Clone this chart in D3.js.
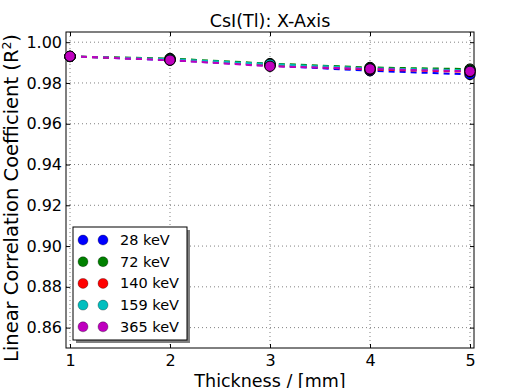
<!DOCTYPE html>
<html><head><meta charset="utf-8">
<script src="https://cdn.jsdelivr.net/npm/d3@7"></script>
<style>body{margin:0;background:#fff;}svg{display:block;font-family:"DejaVu Sans",sans-serif;}</style>
</head><body>
<script>
const thickness = [1, 2, 3, 4, 5];
const seriesNames = ["28 keV", "72 keV", "140 keV", "159 keV", "365 keV"];
const seriesColors = ["#0000ff", "#008000", "#ff0000", "#00bfbf", "#bf00bf"];
const r2_28 = [0.9930, 0.9912, 0.9885, 0.9860, 0.9842];
const r2_72 = [0.9930, 0.9920, 0.9895, 0.9876, 0.9868];
const r2_140 = [0.9930, 0.9915, 0.9888, 0.9866, 0.9855];
const r2_159 = [0.9930, 0.9917, 0.9892, 0.9872, 0.9862];
const r2_365 = [0.9931, 0.9912, 0.9882, 0.9869, 0.9857];
const seriesValues = [r2_28, r2_72, r2_140, r2_159, r2_365];
const yTicks = [0.86, 0.88, 0.90, 0.92, 0.94, 0.96, 0.98, 1.00];
const xTicks = [1, 2, 3, 4, 5];

const W = 509, H = 388;
const L = 66, R = 474, T = 32, B = 348;
const svg = d3.select("body").append("svg").attr("width", W).attr("height", H);
const x = d3.scaleLinear().domain([0.96, 5.04]).range([L, R]);
const y = d3.scaleLinear().domain([0.85, 1.005]).range([B, T]);

// grid
const g = svg.append("g");
g.selectAll(".gx").data(xTicks).enter().append("line")
  .attr("x1", d => x(d)).attr("x2", d => x(d)).attr("y1", T).attr("y2", B)
  .attr("stroke", "#000").attr("stroke-width", 0.5).attr("stroke-dasharray", "1,3");
g.selectAll(".gy").data(yTicks).enter().append("line")
  .attr("y1", d => y(d)).attr("y2", d => y(d)).attr("x1", L).attr("x2", R)
  .attr("stroke", "#000").attr("stroke-width", 0.5).attr("stroke-dasharray", "1,3");

// axes (inward ticks)
const ax = svg.append("g").attr("transform", `translate(0,${B})`)
  .call(d3.axisBottom(x).tickValues(xTicks).tickFormat(d3.format("d")).tickSizeInner(-4).tickSizeOuter(0).tickPadding(7));
const axT = svg.append("g").attr("transform", `translate(0,${T})`)
  .call(d3.axisTop(x).tickValues(xTicks).tickFormat("").tickSizeInner(-4).tickSizeOuter(0));
const ay = svg.append("g").attr("transform", `translate(${L},0)`)
  .call(d3.axisLeft(y).tickValues(yTicks).tickFormat(d3.format(".2f")).tickSizeInner(-4).tickSizeOuter(0).tickPadding(0));
const ayR = svg.append("g").attr("transform", `translate(${R},0)`)
  .call(d3.axisRight(y).tickValues(yTicks).tickFormat("").tickSizeInner(-4).tickSizeOuter(0));
[ax, axT, ay, ayR].forEach(a => {
  a.select(".domain").remove();
  a.selectAll("text").attr("font-size", 16).attr("fill", "#000").attr("font-family", "DejaVu Sans");
  a.selectAll("line").attr("stroke", "#000");
});
ay.selectAll("text").attr("x", -4);
svg.append("rect").attr("x", L).attr("y", T).attr("width", R - L).attr("height", B - T)
  .attr("fill", "none").attr("stroke", "#000").attr("stroke-width", 1);

// lines + markers
const plot = svg.append("g");
const line = d3.line().x((d, i) => x(thickness[i])).y(d => y(d));
seriesValues.forEach((vals, s) => {
  plot.append("path").datum(vals).attr("d", line).attr("fill", "none")
    .attr("stroke", seriesColors[s]).attr("stroke-width", 2).attr("stroke-dasharray", "6,5");
});
seriesValues.forEach((vals, s) => {
  plot.selectAll(null).data(vals).enter().append("circle")
    .attr("cx", (d, i) => x(thickness[i])).attr("cy", d => y(d)).attr("r", 5.2)
    .attr("fill", seriesColors[s]).attr("stroke", "#000").attr("stroke-width", 1);
});

// legend
const lg = svg.append("g");
const lx = 73, ly = 227, lw = 114, lh = 113;
lg.append("rect").attr("x", lx + 3).attr("y", ly + 3).attr("width", lw).attr("height", lh).attr("fill", "#808080");
lg.append("rect").attr("x", lx).attr("y", ly).attr("width", lw).attr("height", lh).attr("fill", "#fff").attr("stroke", "#000").attr("stroke-width", 1);
seriesNames.forEach((n, i) => {
  const yy = ly + 13 + i * 21.7;
  [83, 103].forEach(xx => lg.append("circle").attr("cx", xx).attr("cy", yy).attr("r", 5).attr("fill", seriesColors[i]).attr("stroke", "#000").attr("stroke-width", 0.3));
  lg.append("text").attr("x", 120).attr("y", yy + 5).attr("font-size", 14.5).text(n);
});

// title & labels
svg.append("text").attr("x", (L + R) / 2).attr("y", 27).attr("text-anchor", "middle").attr("font-size", 17.5).text("CsI(Tl): X-Axis");
svg.append("text").attr("x", (L + R) / 2).attr("y", 387).attr("text-anchor", "middle").attr("font-size", 17.5).text("Thickness / [mm]");
const yl = svg.append("text").attr("transform", `translate(18,${(T + B) / 2 + 8}) rotate(-90)`).attr("text-anchor", "middle").attr("font-size", 19.5);
yl.append("tspan").text("Linear Correlation Coefficient (R");
yl.append("tspan").attr("font-size", 12.5).attr("dy", -7).text("2");
yl.append("tspan").attr("dy", 7).text(")");
</script>
</body></html>
